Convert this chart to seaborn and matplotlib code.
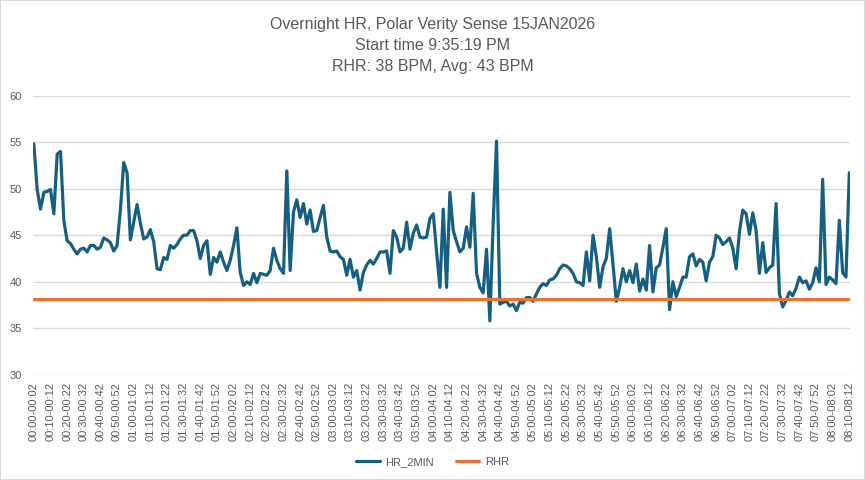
import pandas as pd
import seaborn as sns
from matplotlib import pyplot as plt
from matplotlib.lines import Line2D
from matplotlib.patches import Rectangle

sns.set_theme(style="white")
plt.rcParams['font.family'] = ['Liberation Sans', 'DejaVu Sans']

# heart rate per 2 minute slot
hr_2min = [
    54.8, 49.9, 47.8, 49.6, 49.7, 49.9, 47.3, 53.7, 54.0, 46.6,
    44.4, 44.1, 43.5, 43.0, 43.5, 43.6, 43.2, 43.9, 43.9, 43.5,
    43.7, 44.7, 44.5, 44.2, 43.3, 43.9, 47.7, 52.8, 51.7, 44.5,
    46.4, 48.3, 46.3, 44.6, 44.8, 45.6, 44.3, 41.4, 41.3, 42.6,
    42.4, 43.9, 43.6, 44.0, 44.6, 45.0, 45.0, 45.5, 45.5, 44.4,
    42.5, 43.9, 44.4, 40.8, 42.6, 42.1, 43.2, 42.1, 41.2, 42.3,
    43.9, 45.8, 41.0, 39.6, 40.0, 39.7, 40.9, 39.9, 40.9, 40.8,
    40.7, 41.2, 43.6, 42.3, 41.4, 40.9, 51.9, 41.2, 47.5, 48.8,
    46.9, 48.4, 46.2, 47.7, 45.4, 45.5, 46.9, 48.2, 44.8, 43.3,
    43.2, 43.3, 42.7, 42.4, 40.7, 42.4, 40.5, 41.2, 39.1, 41.0,
    41.8, 42.3, 41.9, 42.5, 43.2, 43.2, 43.3, 40.9, 45.5, 44.8,
    43.2, 43.6, 46.4, 43.5, 45.2, 46.1, 44.8, 44.7, 44.8, 46.8,
    47.3, 43.2, 39.4, 47.8, 39.4, 49.6, 45.5, 44.3, 43.2, 43.6,
    45.9, 43.7, 49.5, 40.9, 39.4, 38.8, 43.5, 35.8, 46.3, 55.1,
    37.6, 37.8, 37.9, 37.4, 37.6, 36.9, 37.8, 37.7, 38.3, 38.3,
    37.9, 38.7, 39.4, 39.8, 39.6, 40.2, 40.3, 40.7, 41.4, 41.8,
    41.7, 41.4, 40.9, 40.0, 39.9, 39.6, 43.2, 40.1, 45.0, 42.7,
    39.4, 41.6, 42.5, 45.7, 41.9, 37.9, 39.4, 41.4, 40.0, 41.2,
    39.9, 41.9, 39.0, 40.3, 39.1, 43.9, 38.9, 41.5, 41.8, 43.7,
    45.7, 37.0, 40.0, 38.4, 39.4, 40.5, 40.5, 42.7, 43.0, 41.7,
    42.4, 42.1, 40.1, 42.1, 42.7, 45.0, 44.7, 44.0, 44.3, 44.7,
    43.6, 41.4, 45.4, 47.7, 47.3, 45.1, 47.4, 45.5, 40.9, 44.2,
    41.0, 41.5, 41.8, 48.4, 38.7, 37.3, 38.0, 38.9, 38.5, 39.3,
    40.5, 39.9, 40.1, 39.2, 39.9, 41.5, 40.0, 51.0, 39.7, 40.5,
    40.2, 39.8, 46.6, 41.0, 40.5, 51.7,
]
RHR = 38.2

# slot labels "hh:mm-hh:mm", 2 minutes each
def fmt(m):
    return f"{m // 60:02d}:{m % 60:02d}"

slots = [f"{fmt(2 * i)}-{fmt(2 * i + 2)}" for i in range(len(hr_2min))]

data = pd.concat([
    pd.DataFrame({"pos": range(len(slots)), "bpm": hr_2min, "Series": "HR_2MIN"}),
    pd.DataFrame({"pos": range(len(slots)), "bpm": [RHR] * len(slots), "Series": "RHR"}),
])

colors = {"HR_2MIN": "#156082", "RHR": "#E97132"}
grey = "#595959"

fig = plt.figure(figsize=(8.65, 4.8), dpi=100)
ax = fig.add_axes([0.038, 0.219, 0.945, 0.582])

sns.lineplot(data=data, x="pos", y="bpm", hue="Series", palette=colors,
             linewidth=2.3, legend=False, ax=ax)

ax.set_ylim(30, 60)
ax.set_yticks(range(30, 61, 5))
ax.set_xlim(-0.3, len(slots) - 0.7)
ax.set_xticks(range(0, len(slots), 5))
ax.set_xticklabels(slots[::5], rotation=90)
ax.set(xlabel="", ylabel="")
ax.grid(axis="y", color="#D9D9D9", linewidth=1)
ax.set_axisbelow(True)
for s in ax.spines.values():
    s.set_visible(False)
ax.tick_params(axis="both", length=0, colors=grey, labelsize=8)
ax.tick_params(axis="y", pad=8)
ax.tick_params(axis="x", pad=5)

fig.text(0.5, 1 - 17 / 480,
         "Overnight HR, Polar Verity Sense 15JAN2026\nStart time 9:35:19 PM\nRHR: 38 BPM, Avg: 43 BPM",
         ha="center", va="top", fontsize=11.5, color=grey, linespacing=1.5)

handles = [Line2D([], [], color=colors[k], linewidth=2.3) for k in colors]
fig.legend(handles, list(colors), loc="center", bbox_to_anchor=(0.5, 1 - 462 / 480),
           ncol=2, frameon=False, fontsize=8, labelcolor=grey,
           handlelength=2.1, handletextpad=0.5, columnspacing=2.0)

fig.add_artist(Rectangle((0, 0), 1, 1, transform=fig.transFigure,
                         fill=False, edgecolor="#D9D9D9", linewidth=1.5))

plt.savefig("out.png", dpi=100)
